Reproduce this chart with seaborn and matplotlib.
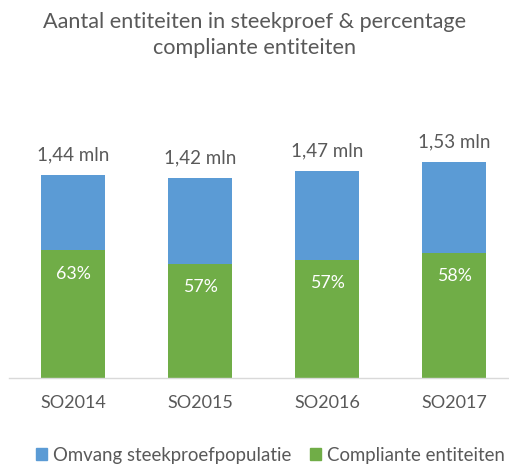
import seaborn as sns
import matplotlib.pyplot as plt
from matplotlib.patches import Patch

# data
categories = ['SO2014', 'SO2015', 'SO2016', 'SO2017']
totals_mln = [1.44, 1.42, 1.47, 1.53]
compliant_pct = [63, 57, 57, 58]
total_labels = ['1,44 mln', '1,42 mln', '1,47 mln', '1,53 mln']

blue = '#5B9BD5'
green = '#70AD47'
grey = '#595959'

sns.set_theme(style='white')
plt.rcParams['font.family'] = ['Lato', 'DejaVu Sans']

compliant = [t * p / 100 for t, p in zip(totals_mln, compliant_pct)]

fig = plt.figure(figsize=(5.1, 4.65), dpi=100)
ax = fig.add_axes([9.5 / 510, 87 / 465, 500.5 / 510, 278 / 465])

sns.barplot(x=categories, y=totals_mln, color=blue, width=0.5, saturation=1,
            linewidth=0, ax=ax)
sns.barplot(x=categories, y=compliant, color=green, width=0.5, saturation=1,
            linewidth=0, ax=ax)

for i in range(len(categories)):
    ax.annotate(total_labels[i], (i, totals_mln[i]), xytext=(0, 14.5),
                textcoords='offset points', ha='center', va='center',
                fontsize=13.5, color=grey)
    ax.annotate(f'{compliant_pct[i]}%', (i, compliant[i]), xytext=(0, -17),
                textcoords='offset points', ha='center', va='center',
                fontsize=12.8, color='white')

ax.set_xlim(-0.5, 3.44)
ax.set_ylim(0, 278 / 141)
ax.set_yticks([])
for s in ['top', 'right', 'left']:
    ax.spines[s].set_visible(False)
ax.spines['bottom'].set_color('#D9D9D9')
ax.spines['bottom'].set_linewidth(1)
ax.tick_params(axis='x', colors=grey, labelsize=13, length=0, pad=12)
ax.set_xlabel('')

fig.text(0.5, 1 - 22 / 465, 'Aantal entiteiten in steekproef & percentage',
         ha='center', va='center', fontsize=15.6, color=grey)
fig.text(0.5, 1 - 48 / 465, 'compliante entiteiten',
         ha='center', va='center', fontsize=15.6, color=grey)

handles = [Patch(color=blue, label='Omvang steekproefpopulatie'),
           Patch(color=green, label='Compliante entiteiten')]
leg = fig.legend(handles=handles, loc='center', bbox_to_anchor=(0.53, 1 - 455 / 465),
                 ncol=2, frameon=False, fontsize=13.4, handlelength=0.6,
                 handleheight=0.6, handletextpad=0.3, columnspacing=1.0)
for t in leg.get_texts():
    t.set_color(grey)

fig.savefig('out.png', dpi=100)
